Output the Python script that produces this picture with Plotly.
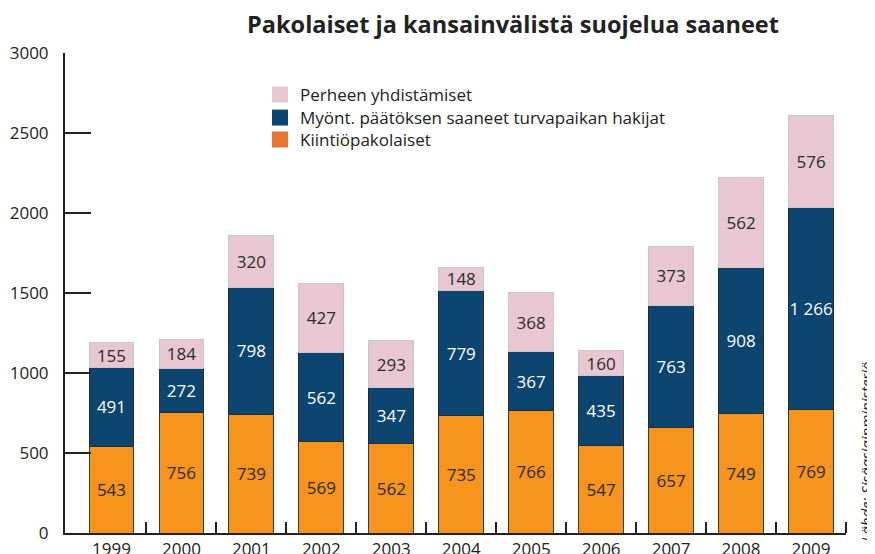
import plotly.graph_objects as go

years = [1999, 2000, 2001, 2002, 2003, 2004, 2005, 2006, 2007, 2008, 2009]
kiintio = [543, 756, 739, 569, 562, 735, 766, 547, 657, 749, 769]
myont = [491, 272, 798, 562, 347, 779, 367, 435, 763, 908, 1266]
perhe = [155, 184, 320, 427, 293, 148, 368, 160, 373, 562, 576]

names = ["Kiintiöpakolaiset", "Myönt. päätöksen saaneet turvapaikan hakijat", "Perheen yhdistämiset"]
bar_colors = ["#F7941D", "#0B4570", "#E8C7D3"]
legend_colors = ["#EC7230", "#0B4570", "#E8C7D3"]
line_colors = ["#3a3a3a", "#2a2a2a", "#c8c8c8"]
text_colors = ["#2b2b2b", "#ffffff", "#2b2b2b"]
yticks = [0, 500, 1000, 1500, 2000, 2500, 3000]

FONT = "Open Sans"

def fmt(v):
    return f"{v:,}".replace(",", " ")

fig = go.Figure()
for vals, nm, c, lc, tc in zip([kiintio, myont, perhe], names, bar_colors, line_colors, text_colors):
    fig.add_trace(go.Bar(
        x=years, y=vals, name=nm, marker=dict(color=c, line=dict(color=lc, width=1)),
        text=[fmt(v) for v in vals], textposition="inside", insidetextanchor="middle",
        textangle=0, textfont=dict(size=17, color=tc, family=FONT),
        constraintext="none", showlegend=False, width=0.64,
    ))

# legend-only entries, each in its own legend box (bottom to top: orange, blue, pink)
legend_ids = ["legend", "legend2", "legend3"]
for nm, c, lid in zip(names, legend_colors, legend_ids):
    fig.add_trace(go.Scatter(
        x=[None], y=[None], mode="markers", name=nm, legend=lid,
        marker=dict(symbol="square", size=16, color=c), showlegend=True,
    ))

leg_common = dict(x=0.2497, xanchor="left", yanchor="middle", bgcolor="rgba(0,0,0,0)",
                  font=dict(size=17, color="#222222", family=FONT), itemsizing="trace")

fig.update_layout(
    barmode="stack",
    width=867, height=546,
    margin=dict(l=57, r=29, t=45, b=21, autoexpand=False),
    paper_bgcolor="white", plot_bgcolor="white",
    font=dict(family=FONT, size=17, color="#222222"),
    title=dict(text="<b>Pakolaiset ja kansainvälistä suojelua saaneet</b>",
               x=0.5825, xanchor="center", y=0.9689, yanchor="middle", yref="container",
               font=dict(size=23.5, color="#222222", family=FONT)),
    legend3=dict(y=0.9125, **leg_common),
    legend2=dict(y=0.8646, **leg_common),
    legend=dict(y=0.8188, **leg_common),
    showlegend=True,
)

fig.update_xaxes(
    range=[1998.336, 2009.5], tickvals=years, ticktext=[str(y) for y in years],
    showgrid=False, zeroline=False, showline=True, linecolor="#222222", linewidth=2,
    ticks="", tickfont=dict(size=17, color="#222222"), automargin=False,
    minor=dict(tickvals=[y + 0.5 for y in years], ticks="inside", ticklen=11,
               tickcolor="#222222", tickwidth=2, showgrid=False),
)
fig.update_yaxes(
    range=[0, 3000], tickvals=yticks, showgrid=False, zeroline=False,
    showline=True, linecolor="#222222", linewidth=2,
    ticks="inside", ticklen=26, tickwidth=2, tickcolor="#222222",
    tickfont=dict(size=17, color="#222222"), automargin=False, ticklabelstandoff=11,
)

fig.add_annotation(
    text="Lähde: Sisäasiainministeriö", xref="paper", yref="paper",
    x=1.0256, y=0.169, xanchor="center", yanchor="middle", textangle=-90,
    showarrow=False, font=dict(size=15, color="#222222", family=FONT, style="italic"),
)

fig.write_html("out.html")
